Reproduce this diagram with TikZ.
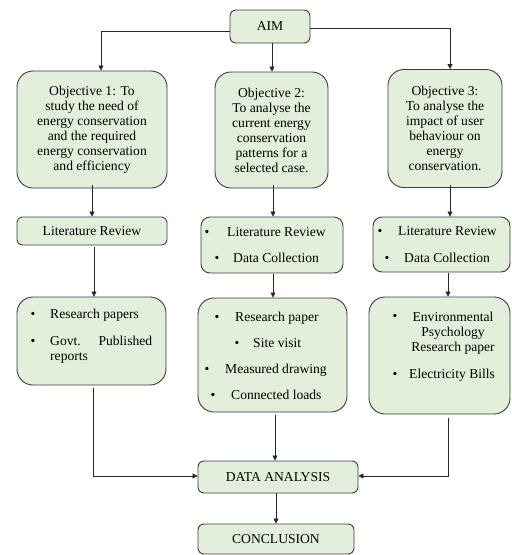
\documentclass[tikz,border=0pt]{standalone}
\usepackage{fontspec}
\setmainfont{Liberation Serif}
\usetikzlibrary{arrows.meta}
\definecolor{boxfill}{HTML}{E2EFDA}
\definecolor{boxline}{HTML}{3C3C3C}
\begin{document}
\begin{tikzpicture}[x=1pt,y=-1pt,
  every node/.style={font=\fontsize{13.6}{15}\selectfont},
  box/.style={draw=boxline, fill=boxfill, line width=0.9pt, inner sep=0pt, align=center},
  sq/.style={box, rounded corners=6pt},
  md/.style={box, rounded corners=9pt},
  rd/.style={box, rounded corners=16pt},
  txt/.style={inner sep=0pt, anchor=west, text height=9pt, text depth=3pt},
  bul/.style={inner sep=0pt, text height=9pt, text depth=3pt},
  arr/.style={draw=black!85, line width=0.8pt, -{Triangle[width=5pt,length=5pt]}},
  ln/.style={draw=black!85, line width=0.8pt}]
\useasboundingbox (0,0) rectangle (512,555);

% top level
\node[sq, minimum width=80pt, minimum height=33pt] (aim) at (270,26.5) {AIM};

% objectives
\node[rd, minimum width=150pt, minimum height=117pt] (obj1) at (92,129.5)
  {Objective 1: To\\study the need of\\energy conservation\\and the required\\energy conservation\\and efficiency};
\node[rd, minimum width=113pt, minimum height=116pt] (obj2) at (271.5,130)
  {Objective 2:\\To analyse the\\current energy\\conservation\\patterns for a\\selected case.};
\node[rd, minimum width=114pt, minimum height=118pt] (obj3) at (445,128.5)
  {Objective 3:\\To analyse the\\impact of user\\behaviour on\\energy\\conservation.};

% methods
\node[sq, rounded corners=5pt, minimum width=150pt, minimum height=28pt] (lit1) at (92,231) {Literature Review};
\node[md, minimum width=142pt, minimum height=56pt] (lit2) at (272,245) {};
\node[md, minimum width=137pt, minimum height=55pt] (lit3) at (441.5,244.5) {};
\node[bul] (l2b1) at (207,233) {•};
\node[txt] (l2t1) at (227,233) {Literature Review};
\node[bul] (l2b2) at (217,259) {•};
\node[txt] (l2t2) at (233,259) {Data Collection};
\node[bul] (l3b1) at (380,232) {•};
\node[txt] (l3t1) at (398,232) {Literature Review};
\node[bul] (l3b2) at (387,259) {•};
\node[txt] (l3t2) at (404,259) {Data Collection};

% sources
\node[rd, minimum width=149pt, minimum height=88pt] (res1) at (91.5,341) {};
\node[rd, minimum width=149pt, minimum height=114pt] (res2) at (272.5,355) {};
\node[rd, minimum width=141pt, minimum height=117pt] (res3) at (439.5,355.5) {};

\node[bul] (r1b1) at (33,315) {•};
\node[txt] (r1t1) at (50,315) {Research papers};
\node[bul] (r1b2) at (33,342) {•};
\node[txt] (r1t2) at (50,342) {\makebox[102pt][s]{Govt.\hfill Published}};
\node[txt] (r1t3) at (50,357) {reports};

\node[bul] (r2b1) at (217,318) {•};
\node[txt] (r2t1) at (235,318) {Research paper};
\node[bul] (r2b2) at (237,344) {•};
\node[txt] (r2t2) at (253,344) {Site visit};
\node[bul] (r2b3) at (207,370) {•};
\node[txt] (r2t3) at (225,370) {Measured drawing};
\node[bul] (r2b4) at (213,396) {•};
\node[txt] (r2t4) at (231,396) {Connected loads};

\node[bul] (r3b1) at (395,317) {•};
\node[inner sep=0pt, align=center] (r3t1) at (453,333) {Environmental\\Psychology\\Research paper};
\node[bul] (r3b2) at (395,375) {•};
\node[txt] (r3t2) at (409,375) {Electricity Bills};

% analysis and conclusion
\node[sq, minimum width=160pt, minimum height=32pt] (da) at (278,477) {DATA ANALYSIS};
\node[sq, minimum width=156pt, minimum height=30pt] (con) at (276,539) {CONCLUSION};

% connector bend points
\coordinate (c1) at (101,31);
\coordinate (c3) at (450,28);
\coordinate (c2) at (272,0);
\coordinate (d1) at (92,0);
\coordinate (d2) at (273,0);
\coordinate (d3) at (450,0);
\coordinate (e1) at (94,0);
\coordinate (e3) at (448,0);
\coordinate (f1) at (93,476);
\coordinate (f2) at (275,0);
\coordinate (f3) at (448,476);
\coordinate (g)  at (276,0);

% connectors
\draw[arr] (aim.west |- c1) -| (c1 |- obj1.north);
\draw[arr] (aim.east |- c3) -| (c3 |- obj3.north);
\draw[arr] (c2 |- aim.south) -- (c2 |- obj2.north);

\draw[arr] ([yshift=3pt]d1 |- obj1.south) -- (d1 |- lit1.north);
\draw[arr] ([yshift=3pt]d2 |- obj2.south) -- (d2 |- lit2.north);
\draw[arr] ([yshift=3pt]d3 |- obj3.south) -- (d3 |- lit3.north);

\draw[arr] ([yshift=-2pt]e1 |- lit1.south) -- (e1 |- res1.north);
\draw[arr] ([yshift=-1pt]d2 |- lit2.south) -- (d2 |- res2.north);
\draw[arr] ([yshift=-1pt]e3 |- lit3.south) -- (e3 |- res3.north);

\draw[arr] ([yshift=-3pt]f1 |- res1.south) -- (f1) -- (f1 -| da.west);
\draw[arr] ([yshift=-3pt]f2 |- res2.south) -- (f2 |- da.north);
\draw[arr] ([yshift=-4pt]f3 |- res3.south) -- (f3) -- (f3 -| da.east);
\draw[arr] (g |- da.south) -- (g |- con.north);
\end{tikzpicture}
\end{document}
